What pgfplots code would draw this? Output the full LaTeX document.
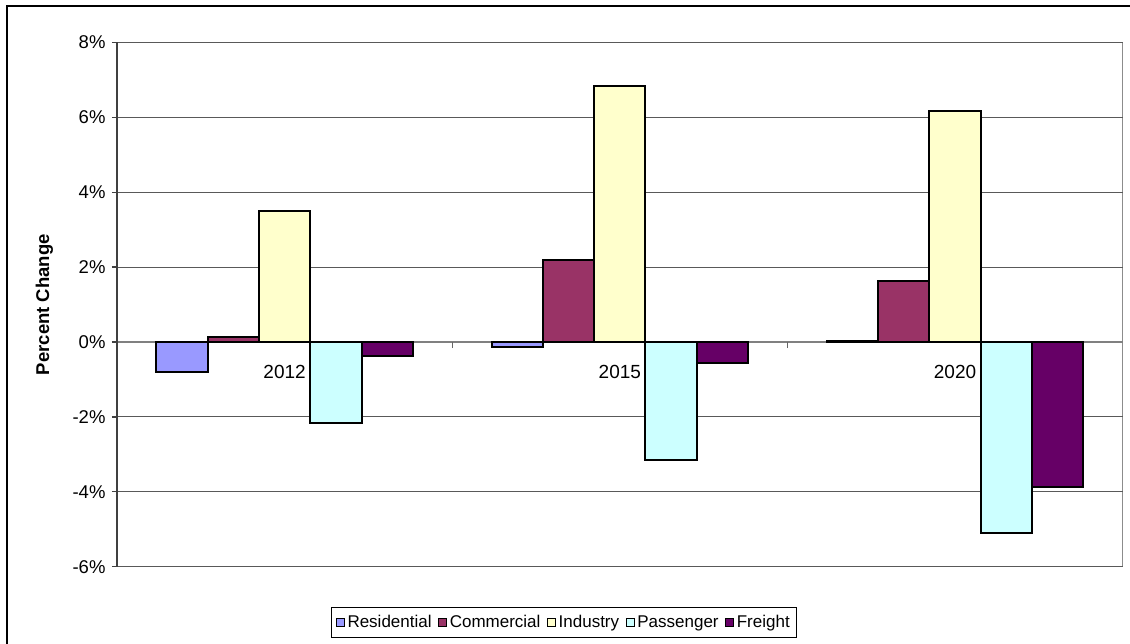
\documentclass[border=0pt]{standalone}
\usepackage{fontspec}
\setmainfont{Liberation Sans}
\usepackage{pgfplots}
\pgfplotsset{compat=1.18}
\definecolor{cRes}{HTML}{9999FF}
\definecolor{cCom}{HTML}{993366}
\definecolor{cInd}{HTML}{FFFFCC}
\definecolor{cPas}{HTML}{CCFFFF}
\definecolor{cFre}{HTML}{660066}
\begin{document}
\begin{tikzpicture}
\useasboundingbox (0,0) rectangle (1130pt,644pt);
\draw[black, line width=1.3pt] (7pt,-3pt) -- (7pt,638pt) -- (1133pt,638pt);
\begin{axis}[
  scale only axis, width=1005.7pt, height=524.2pt,
  at={(117pt,77.3pt)}, anchor=south west,
  xmin=-0.5, xmax=2.5, ymin=-6, ymax=8,
  axis x line*=middle, axis y line*=left,
  axis background/.style={draw=black!45, line width=1.6pt},
  y axis line style={draw=black!75, line width=1.8pt},
  x axis line style={draw=black!50, line width=1.6pt},
  ytick={-6,-4,-2,0,2,4,6,8},
  yticklabels={-6\%,-4\%,-2\%,0\%,2\%,4\%,6\%,8\%},
  y tick label style={font=\fontsize{18.5}{21}\selectfont, xshift=-3pt},
  ytick style={draw=black!75, line width=1.3pt},
  tick align=outside, major tick length=5pt,
  ymajorgrids, grid style={draw=black!65, line width=1pt},
  xtick={0,1,2}, xticklabels={2012,2015,2020},
  x tick label style={font=\fontsize{19}{22}\selectfont, yshift=-15pt},
  xtick style={draw=none},
  extra x ticks={0.5,1.5}, extra x tick labels={},
  extra x tick style={major tick length=6pt, tick align=outside, xtick style={draw=black!60, line width=1.3pt}},
  ylabel={Percent Change},
  ylabel style={font=\fontsize{18.5}{20}\selectfont\bfseries, at={(axis description cs:-0.0721,0.5)}, anchor=center},
  ybar=0pt, bar width=51.3pt,
  legend columns=5,
  legend style={at={(axis description cs:0.4445,-0.1064)}, anchor=center,
    draw=black, line width=1pt, font=\fontsize{17}{19}\selectfont,
    inner xsep=4pt, inner ysep=6pt,
    nodes={inner xsep=2.5pt, inner ysep=2pt},
    /tikz/every even column/.append style={column sep=4pt}},
  legend image code/.code={\draw[#1, draw=black, line width=1.2pt] (0pt,-4pt) rectangle (8pt,4pt);},
]
\addplot[fill=cRes, draw=black, line width=2pt] coordinates {(0,-0.80) (1,-0.14) (2,0.04)};
\addplot[fill=cCom, draw=black, line width=2pt] coordinates {(0,0.14) (1,2.20) (2,1.63)};
\addplot[fill=cInd, draw=black, line width=2pt] coordinates {(0,3.51) (1,6.83) (2,6.18)};
\addplot[fill=cPas, draw=black, line width=2pt] coordinates {(0,-2.16) (1,-3.14) (2,-5.10)};
\addplot[fill=cFre, draw=black, line width=2pt] coordinates {(0,-0.37) (1,-0.57) (2,-3.87)};
\legend{Residential,Commercial,Industry,Passenger,Freight}
\end{axis}
\end{tikzpicture}
\end{document}
